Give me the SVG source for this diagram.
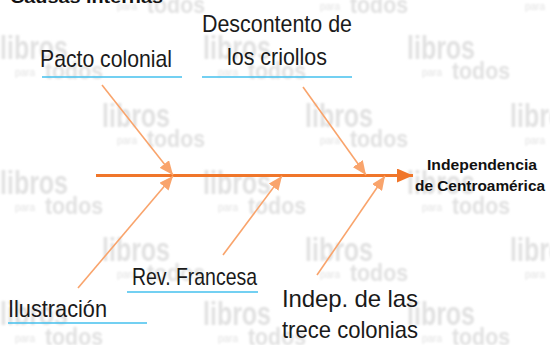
<svg xmlns="http://www.w3.org/2000/svg" xmlns:xlink="http://www.w3.org/1999/xlink" width="550" height="345" viewBox="0 0 550 345">
  <style>
    .wm { fill: #e1e1e1; font-family: "Liberation Sans", Arial, sans-serif; font-weight: bold; }
    .lbl { fill: #1a1a1a; font-family: "Liberation Sans Narrow", "Liberation Sans", Arial, sans-serif; font-size: 24px; }
    .eff { fill: #111111; font-family: "Liberation Sans", Arial, sans-serif; font-weight: bold; font-size: 15px; text-anchor: middle; }
    .ttl { fill: #111111; font-family: "Liberation Sans", Arial, sans-serif; font-weight: bold; font-size: 17px; }
    .ul { stroke: #45c0ee; stroke-width: 1.6; fill: none; }
    .spine { stroke: #f0762a; stroke-width: 3; fill: none; }
    .bone { stroke: #f9a46c; stroke-width: 1.6; fill: none; }
  </style>
  <defs>
    <filter id="soft" x="-10%" y="-10%" width="120%" height="120%">
      <feGaussianBlur stdDeviation="0.8"/>
    </filter>
    <g id="logo" class="wm" filter="url(#soft)">
      <text x="0" y="27" font-size="34" textLength="68" lengthAdjust="spacingAndGlyphs">libros</text>
      <text x="15" y="44" font-size="10" font-weight="normal" textLength="20" lengthAdjust="spacingAndGlyphs">para</text>
      <text x="45" y="47" font-size="24" textLength="58" lengthAdjust="spacingAndGlyphs">todos</text>
    </g>
    <marker id="bonehead" viewBox="0 0 14 12" refX="14" refY="6" markerWidth="14" markerHeight="12" markerUnits="userSpaceOnUse" orient="auto">
      <path d="M0,0 L14,6 L0,12 z" fill="#f9a46c"/>
    </marker>
    <marker id="mainhead" viewBox="0 0 16 14" refX="16" refY="7" markerWidth="16" markerHeight="14" markerUnits="userSpaceOnUse" orient="auto">
      <path d="M0,0 L16,7 L0,14 z" fill="#f0762a"/>
    </marker>
  </defs>

  <rect width="550" height="345" fill="#ffffff"/>

  <g id="watermarks">
    <use xlink:href="#logo" x="102" y="-34"/>
    <use xlink:href="#logo" x="305" y="-34"/>
    <use xlink:href="#logo" x="510" y="-34"/>
    <use xlink:href="#logo" x="0" y="32"/>
    <use xlink:href="#logo" x="203" y="32"/>
    <use xlink:href="#logo" x="407" y="32"/>
    <use xlink:href="#logo" x="102" y="100"/>
    <use xlink:href="#logo" x="305" y="100"/>
    <use xlink:href="#logo" x="510" y="100"/>
    <use xlink:href="#logo" x="0" y="167"/>
    <use xlink:href="#logo" x="203" y="167"/>
    <use xlink:href="#logo" x="407" y="167"/>
    <use xlink:href="#logo" x="102" y="234"/>
    <use xlink:href="#logo" x="305" y="234"/>
    <use xlink:href="#logo" x="510" y="234"/>
    <use xlink:href="#logo" x="0" y="298"/>
    <use xlink:href="#logo" x="203" y="298"/>
    <use xlink:href="#logo" x="407" y="298"/>
  </g>

  <text id="title" class="ttl" x="10" y="3" textLength="153" lengthAdjust="spacingAndGlyphs">Causas internas</text>

  <g id="connectors">
    <line class="spine" x1="96" y1="175.5" x2="413" y2="175.5" marker-end="url(#mainhead)"/>
    <line class="bone" x1="102" y1="85" x2="173" y2="175" marker-end="url(#bonehead)"/>
    <line class="bone" x1="303" y1="87" x2="366" y2="175" marker-end="url(#bonehead)"/>
    <line class="bone" x1="78" y1="288" x2="173" y2="176" marker-end="url(#bonehead)"/>
    <line class="bone" x1="223" y1="255" x2="282" y2="176" marker-end="url(#bonehead)"/>
    <line class="bone" x1="317" y1="275" x2="385" y2="176" marker-end="url(#bonehead)"/>
  </g>

  <g id="pacto">
    <text class="lbl" x="40" y="67" textLength="132" lengthAdjust="spacingAndGlyphs">Pacto colonial</text>
    <line class="ul" x1="42" y1="77" x2="182" y2="77"/>
  </g>

  <g id="descontento">
    <text class="lbl" x="202" y="32" textLength="150" lengthAdjust="spacingAndGlyphs">Descontento de</text>
    <text class="lbl" x="227" y="65" textLength="100" lengthAdjust="spacingAndGlyphs">los criollos</text>
    <line class="ul" x1="202" y1="77" x2="352" y2="77"/>
  </g>

  <g id="independencia">
    <text class="eff" x="482" y="169.5" textLength="110" lengthAdjust="spacingAndGlyphs">Independencia</text>
    <text class="eff" x="480" y="191" textLength="130" lengthAdjust="spacingAndGlyphs">de Centroamérica</text>
  </g>

  <g id="ilustracion">
    <text class="lbl" x="8" y="317" textLength="99" lengthAdjust="spacingAndGlyphs">Ilustración</text>
    <line class="ul" x1="8" y1="323" x2="147" y2="323"/>
  </g>

  <g id="revfrancesa">
    <text class="lbl" x="132" y="285" textLength="125" lengthAdjust="spacingAndGlyphs">Rev. Francesa</text>
    <line class="ul" x1="127" y1="292" x2="258" y2="292"/>
  </g>

  <g id="trece">
    <text class="lbl" x="282" y="307" textLength="136" lengthAdjust="spacing">Indep.  de  las</text>
    <text class="lbl" x="282" y="338" textLength="136" lengthAdjust="spacingAndGlyphs">trece colonias</text>
  </g>
</svg>
